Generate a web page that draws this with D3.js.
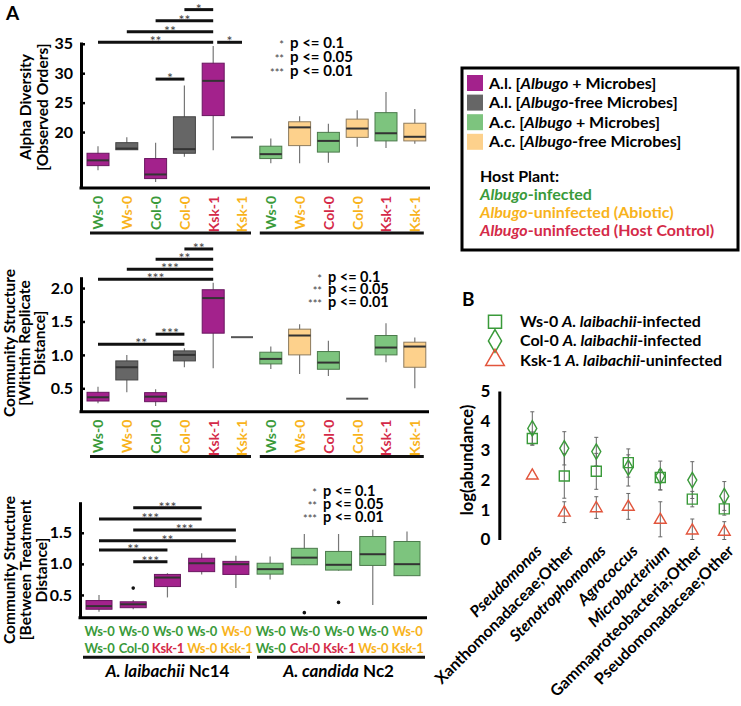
<!DOCTYPE html>
<html>
<head>
<meta charset="utf-8">
<script src="https://cdn.jsdelivr.net/npm/d3@7"></script>
<style>
  body { margin: 0; background: #fff; }
  text { font-family: Lato, "Open Sans", sans-serif; font-weight: bold; }
</style>
</head>
<body>
<svg id="chart" width="741" height="706"></svg>
<script>
// ---------- data ----------
const hostLabels = ["Ws-0","Ws-0","Col-0","Col-0","Ksk-1","Ksk-1","Ws-0","Ws-0","Col-0","Col-0","Ksk-1","Ksk-1"];
const hostType   = ["inf","abio","inf","abio","ctrl","abio","inf","abio","ctrl","abio","ctrl","abio"];
const treatment  = ["AlM","AlF","AlM","AlF","AlM","AlF","AcM","AcF","AcM","AcF","AcM","AcF"];

// [whisker low, q1, median, q3, whisker high]
const alphaStats = [
  [13.5, 14.3, 15.2, 16.4, 17.6],
  [17.0, 17.0, 17.2, 18.2, 19.1],
  [11.5, 12.1, 12.8, 15.5, 18.2],
  [15.8, 16.4, 17.1, 22.6, 27.9],
  [16.9, 22.8, 28.7, 31.7, 34.6],
  [19.1, 19.1, 19.1, 19.1, 19.1],
  [14.7, 15.5, 16.25, 17.6, 18.9],
  [14.7, 17.7, 20.8, 21.75, 22.7],
  [14.8, 16.6, 18.5, 19.95, 21.4],
  [17.5, 19.1, 20.6, 22.2, 23.7],
  [17.3, 18.5, 19.8, 23.3, 26.8],
  [18.0, 18.5, 19.2, 21.5, 23.9]
];
const withinStats = [
  [0.275, 0.31, 0.366, 0.44, 0.525],
  [0.44, 0.625, 0.815, 0.91, 1.0],
  [0.235, 0.30, 0.375, 0.435, 0.485],
  [0.815, 0.91, 1.0, 1.06, 1.10],
  [0.80, 1.325, 1.85, 1.975, 2.08],
  [1.265, 1.265, 1.265, 1.265, 1.265],
  [0.79, 0.865, 0.94, 1.04, 1.125],
  [0.715, 1.0, 1.29, 1.385, 1.46],
  [0.685, 0.785, 0.885, 1.05, 1.21],
  [0.345, 0.345, 0.345, 0.345, 0.345],
  [0.89, 1.0, 1.11, 1.29, 1.475],
  [0.50, 0.815, 1.125, 1.19, 1.26]
];

const pairTop        = ["Ws-0","Ws-0","Ws-0","Ws-0","Ws-0","Ws-0","Ws-0","Ws-0","Ws-0","Ws-0"];
const pairTopHost    = ["inf","inf","inf","inf","abio","inf","inf","inf","inf","abio"];
const pairBottom     = ["Ws-0","Col-0","Ksk-1","Ws-0","Ksk-1","Ws-0","Col-0","Ksk-1","Ws-0","Ksk-1"];
const pairBottomHost = ["inf","inf","ctrl","abio","abio","inf","ctrl","ctrl","abio","abio"];
const pairTreatment  = ["AlM","AlM","AlM","AlM","AlM","AcM","AcM","AcM","AcM","AcM"];
const betweenStats = [
  [0.23, 0.27, 0.32, 0.41, 0.50],
  [0.27, 0.295, 0.35, 0.39, 0.42],
  [0.46, 0.635, 0.78, 0.83, 0.85],
  [0.83, 0.875, 1.01, 1.09, 1.17],
  [0.61, 0.83, 0.995, 1.04, 1.13],
  [0.75, 0.835, 0.915, 1.01, 1.12],
  [0.985, 0.985, 1.10, 1.25, 1.48],
  [0.89, 0.90, 0.985, 1.20, 1.48],
  [0.34, 0.975, 1.155, 1.44, 1.55],
  [0.81, 0.81, 0.995, 1.36, 1.52]
];
const betweenOutliers = [[], [0.61], [], [], [], [], [0.215], [0.38], [], []];

// significance: [from box, to box, bar level (axis units), stars]
const alphaSig   = [[3,4,40.8,"*"],[2,4,38.9,"**"],[1,4,37.05,"**"],[0,4,35.25,"**"],[4,5,35.25,"*"],[2,3,29.0,"*"]];
const withinSig  = [[3,4,2.585,"**"],[2,4,2.43,"**"],[1,4,2.28,"***"],[0,4,2.13,"***"],[2,3,1.31,"***"],[0,3,1.16,"**"]];
const betweenSig = [[1,3,1.904,"***"],[0,3,1.722,"***"],[1,4,1.545,"***"],[0,4,1.373,"**"],[0,2,1.223,"**"],[1,2,1.035,"***"]];

const pStars = ["*", "**", "***"];
const pText  = ["p <= 0.1", "p <= 0.05", "p <= 0.01"];

// panel B
const taxa       = ["Pseudomonas","Xanthomonadaceae;Other","Stenotrophomonas","Agrococcus","Microbacterium","Gammaproteobacteria;Other","Pseudomonadaceae;Other"];
const taxaItalic = [true, false, true, true, true, false, false];
const ws0Mean  = [3.40, 2.14, 2.30, 2.59, 2.09, 1.36, 1.03];
const ws0Lo    = [3.18, 1.39, 1.69, 2.10, 1.67, 1.10, 0.82];
const ws0Hi    = [3.62, 2.89, 2.90, 2.85, 2.35, 1.62, 1.25];
const col0Mean = [3.74, 3.07, 2.96, 2.42, 2.14, 2.00, 1.46];
const col0Lo   = [3.18, 2.51, 2.48, 1.80, 1.67, 1.38, 0.98];
const col0Hi   = [4.30, 3.63, 3.44, 3.05, 2.64, 2.62, 1.95];
const ksk1Mean = [2.15, 0.90, 1.05, 1.10, 0.66, 0.30, 0.26];
const ksk1Lo   = [2.15, 0.57, 0.71, 0.68, 0.09, 0.00, 0.00];
const ksk1Hi   = [2.15, 1.27, 1.44, 1.55, 1.27, 0.69, 0.60];

// ---------- colours ----------
const fillCol   = {AlM: "#a3228c", AlF: "#666666", AcM: "#7dc47e", AcF: "#fdd18c"};
const strokeCol = {AlM: "#6a1660", AlF: "#444444", AcM: "#4b7a4b", AcF: "#8d7b5e"};
const hostCol   = {inf: "#3a9a3a", abio: "#f8b31c", ctrl: "#d42a48"};
const green = "#3a9a3a", tri = "#e2553c";

const svg = d3.select("#chart");

// ---------- helpers ----------
function yAxis(g, y, ticks, xPos) {
  const ax = g.append("g")
    .attr("transform", `translate(${xPos},0)`)
    .call(d3.axisLeft(y).tickValues(ticks).tickSize(-4).tickSizeOuter(0).tickPadding(8)
      .tickFormat(d => ticks.some(t => t % 1) ? d3.format(".1f")(d) : d));
  ax.select(".domain").attr("stroke-width", 3);
  ax.selectAll(".tick line").attr("stroke-width", 2.5);
  ax.selectAll(".tick text").style("font-size", "16px").attr("fill", "#000");
}

function boxes(g, stats, x, y, treat, w) {
  const b = g.selectAll(null).data(stats).enter().append("g")
    .attr("transform", (d, i) => `translate(${x(i)},0)`);
  b.append("line").attr("y1", d => y(d[0])).attr("y2", d => y(d[4]))
    .attr("stroke", "#777").attr("stroke-width", 1.2);
  b.append("rect").attr("x", -w / 2).attr("width", w)
    .attr("y", d => y(d[3])).attr("height", d => y(d[1]) - y(d[3]))
    .attr("fill", (d, i) => fillCol[treat[i]]).attr("stroke", (d, i) => strokeCol[treat[i]]);
  b.append("line").attr("x1", -w / 2).attr("x2", w / 2)
    .attr("y1", d => y(d[2])).attr("y2", d => y(d[2]))
    .attr("stroke", (d, i) => d[1] === d[3] ? "#555" : "#333").attr("stroke-width", 2);
}

function sigBars(g, sig, x, y) {
  sig.forEach(s => {
    const shared = sig.some(o => o !== s && o[2] === s[2] && o[1] === s[0]);
    const x1 = x(s[0]) + (shared ? 4 : 0), x2 = x(s[1]);
    g.append("line").attr("x1", x1).attr("x2", x2).attr("y1", y(s[2])).attr("y2", y(s[2]))
      .attr("stroke", "#111").attr("stroke-width", 3);
    g.append("text").attr("x", (x1 + x2) / 2).attr("y", y(s[2]) + 4)
      .attr("text-anchor", "middle").style("font-size", "14px").style("font-weight", "normal")
      .attr("fill", "#444").text(s[3]);
  });
}

// p-value key as one multi-line text block
function pLegend(g, xs, ys, dy, fs) {
  const t = g.append("text");
  pStars.forEach((s, i) => {
    t.append("tspan").attr("x", xs - 6).attr("y", ys + i * dy + 6).attr("text-anchor", "end")
      .style("font-size", "11px").style("font-weight", "normal").attr("fill", "#444").text(s);
    t.append("tspan").attr("x", xs).attr("y", ys + i * dy + 5).attr("text-anchor", "start")
      .style("font-size", fs + "px").text(pText[i]);
  });
}

// rotated multi-line axis title
function yTitle(g, lines, xs, yc) {
  const t = g.append("text").attr("transform", `translate(${xs[0]},${yc}) rotate(-90)`)
    .attr("text-anchor", "middle").style("font-size", "15.5px");
  lines.forEach((l, i) => {
    t.append("tspan").attr("x", 0).attr("y", xs[i] - xs[0]).attr("dy", "0.35em").text(l);
  });
}

function rich(sel, parts) {
  parts.forEach(p => sel.append("tspan").style("font-style", p[1] ? "italic" : "normal").text(p[0]));
  return sel;
}

// ---------- panel A ----------
const A = svg.append("g");
A.append("text").attr("x", 6).attr("y", 20).style("font-size", "19px").text("A");

const idx12 = d3.range(12);
const axisX = 81;

function rotatedTicks(g, x, labels, hosts, yBase, gap) {
  const ax = g.append("g").attr("transform", `translate(0,${yBase})`)
    .call(d3.axisBottom(x).tickSize(0).tickFormat(i => labels[i]));
  ax.select(".domain").remove();
  ax.selectAll(".tick text")
    .attr("transform", "rotate(-90)").attr("text-anchor", "end")
    .attr("x", -gap).attr("y", 0).attr("dy", "0.35em")
    .style("font-size", "14px").attr("fill", (d, i) => hostCol[hosts[i]]);
}

function groupLines(g, x, yL, n) {
  g.append("line").attr("x1", x(0) - 8).attr("x2", x(n / 2 - 1) + 9).attr("y1", yL).attr("y2", yL)
    .attr("stroke", "#111").attr("stroke-width", 3);
  g.append("line").attr("x1", x(n / 2) - 11).attr("x2", x(n - 1) + 9).attr("y1", yL).attr("y2", yL)
    .attr("stroke", "#111").attr("stroke-width", 3);
}

// top: alpha diversity
{
  const x = d3.scalePoint().domain(idx12).range([98, 414.8]);
  const y = d3.scaleLinear().domain([10.5, 35.3]).range([188, 42]);
  yAxis(A, y, [20, 25, 30, 35], axisX);
  A.append("line").attr("x1", axisX - 1.5).attr("x2", 430).attr("y1", 188).attr("y2", 188)
    .attr("stroke", "#000").attr("stroke-width", 3);
  boxes(A, alphaStats, x, y, treatment, 22);
  sigBars(A, alphaSig, x, y);
  pLegend(A, 290, 42.5, 14, 15);
  rotatedTicks(A, x, hostLabels, hostType, 188, 8);
  groupLines(A, x, 233, 12);
  yTitle(A, ["Alpha Diversity", "[Observed Orders]"], [26, 43], 107);
}

// middle: within replicate distance
{
  const x = d3.scalePoint().domain(idx12).range([98, 414.8]);
  const y = d3.scaleLinear().domain([0.15, 2.17]).range([411.7, 276.7]);
  yAxis(A, y, [0.5, 1.0, 1.5, 2.0], axisX);
  A.append("line").attr("x1", axisX - 1.5).attr("x2", 429).attr("y1", 411.7).attr("y2", 411.7)
    .attr("stroke", "#000").attr("stroke-width", 3);
  boxes(A, withinStats, x, y, treatment, 22);
  sigBars(A, withinSig, x, y);
  pLegend(A, 328, 276.5, 12.6, 14.5);
  rotatedTicks(A, x, hostLabels, hostType, 411.7, 8);
  groupLines(A, x, 456.5, 12);
  yTitle(A, ["Community Structure", "[Withtin Replicate", "Distance]"], [10, 25, 40], 343);
}

// bottom: between treatment distance
{
  const idx10 = d3.range(10);
  const x = d3.scalePoint().domain(idx10).range([99, 407]);
  const y = d3.scaleLinear().domain([0.134, 2.0]).range([617.7, 501.7]);
  yAxis(A, y, [0.5, 1.0, 1.5], 80);
  A.append("line").attr("x1", 78.5).attr("x2", 427).attr("y1", 617.7).attr("y2", 617.7)
    .attr("stroke", "#000").attr("stroke-width", 3);
  boxes(A, betweenStats, x, y, pairTreatment, 26);
  betweenOutliers.forEach((o, i) => o.forEach(v =>
    A.append("circle").attr("cx", x(i)).attr("cy", y(v)).attr("r", 1.8).attr("fill", "#111")));
  sigBars(A, betweenSig, x, y);
  pLegend(A, 323, 491, 13, 14.5);

  const ax = A.append("g").attr("transform", "translate(0,617.7)")
    .call(d3.axisBottom(x).tickSize(0).tickFormat(() => ""));
  ax.select(".domain").remove();
  ax.selectAll(".tick").each(function (i) {
    const t = d3.select(this);
    t.append("text").attr("y", 18).attr("text-anchor", "middle").style("font-size", "13px")
      .style("letter-spacing", "-0.3px").attr("fill", hostCol[pairTopHost[i]]).text(pairTop[i]);
    t.append("text").attr("y", 35).attr("text-anchor", "middle").style("font-size", "13px")
      .style("letter-spacing", "-0.3px").attr("fill", hostCol[pairBottomHost[i]]).text(pairBottom[i]);
  });
  A.append("line").attr("x1", 83).attr("x2", 250).attr("y1", 657.3).attr("y2", 657.3)
    .attr("stroke", "#111").attr("stroke-width", 3);
  A.append("line").attr("x1", 257).attr("x2", 425).attr("y1", 657.3).attr("y2", 657.3)
    .attr("stroke", "#111").attr("stroke-width", 3);
  rich(A.append("text").attr("x", (x(0) + x(4)) / 2).attr("y", 677).attr("text-anchor", "middle")
    .style("font-size", "17px"), [["A. laibachii", true], [" Nc14", false]]);
  rich(A.append("text").attr("x", (x(5) + x(9)) / 2).attr("y", 677).attr("text-anchor", "middle")
    .style("font-size", "17px"), [["A. candida", true], [" Nc2", false]]);
  yTitle(A, ["Community Structure", "[Between Treatment", "Distance]"], [10, 26, 42], 570);
}

// ---------- legend box ----------
{
  const L = svg.append("g");
  L.append("rect").attr("x", 462).attr("y", 68).attr("width", 276).attr("height", 182)
    .attr("fill", "none").attr("stroke", "#000").attr("stroke-width", 3);
  const rows = [
    ["AlM", [["A.l. [", 0], ["Albugo", 1], [" + Microbes]", 0]]],
    ["AlF", [["A.l. [", 0], ["Albugo", 1], ["-free Microbes]", 0]]],
    ["AcM", [["A.c. [", 0], ["Albugo", 1], [" + Microbes]", 0]]],
    ["AcF", [["A.c. [", 0], ["Albugo", 1], ["-free Microbes]", 0]]]
  ];
  rows.forEach((r, i) => {
    const yc = 83 + i * 19.6;
    L.append("rect").attr("x", 467).attr("y", yc - 8).attr("width", 16).attr("height", 16)
      .attr("fill", fillCol[r[0]]);
    rich(L.append("text").attr("x", 489).attr("y", yc + 5.5).style("font-size", "16px"), r[1]);
  });
  L.append("text").attr("x", 480).attr("y", 182).style("font-size", "16px").text("Host Plant:");
  const hosts = [["inf", "-infected"], ["abio", "-uninfected (Abiotic)"], ["ctrl", "-uninfected (Host Control)"]];
  hosts.forEach((h, i) => {
    rich(L.append("text").attr("x", 480).attr("y", 199.5 + i * 18.3).style("font-size", "16px")
      .attr("fill", hostCol[h[0]]), [["Albugo", 1], [h[1], 0]]);
  });
}

// ---------- panel B ----------
{
  const B = svg.append("g");
  B.append("text").attr("x", 462).attr("y", 306).style("font-size", "19px").text("B");

  const x = d3.scalePoint().domain(taxa).range([532.3, 724.3]);
  const y = d3.scaleLinear().domain([0, 5]).range([539.5, 391]);

  const ax = B.append("g").attr("transform", "translate(499.3,0)")
    .call(d3.axisLeft(y).ticks(5).tickSize(0).tickSizeOuter(0).tickPadding(9));
  ax.select(".domain").attr("stroke-width", 3);
  ax.selectAll(".tick text").style("font-size", "17px").attr("fill", "#000");

  B.append("text").attr("transform", "translate(467,460) rotate(-90)").attr("text-anchor", "middle")
    .attr("dy", "0.35em").style("font-size", "16.5px").text("log(abundance)");

  const xa = B.append("g").attr("transform", "translate(0,548)")
    .call(d3.axisBottom(x).tickSize(0));
  xa.select(".domain").remove();
  xa.selectAll(".tick text")
    .attr("transform", "translate(6,0) rotate(-45)").attr("text-anchor", "end")
    .attr("y", 0).attr("dy", "0.35em").style("font-size", "16px").attr("fill", "#000")
    .style("font-style", (d, i) => taxaItalic[i] ? "italic" : "normal");

  const series = [
    {mean: ws0Mean, lo: ws0Lo, hi: ws0Hi, shape: d3.symbolSquare, color: green, size: 100},
    {mean: col0Mean, lo: col0Lo, hi: col0Hi, shape: d3.symbolDiamond, color: green, size: 70},
    {mean: ksk1Mean, lo: ksk1Lo, hi: ksk1Hi, shape: d3.symbolTriangle, color: tri, size: 60}
  ];
  series.forEach(s => {
    taxa.forEach((t, i) => {
      if (s.hi[i] === s.lo[i]) return;
      B.append("line").attr("x1", x(t)).attr("x2", x(t)).attr("y1", y(s.lo[i])).attr("y2", y(s.hi[i]))
        .attr("stroke", "#666").attr("stroke-width", 1);
      [s.lo[i], s.hi[i]].forEach(v => B.append("line").attr("x1", x(t) - 2).attr("x2", x(t) + 2)
        .attr("y1", y(v)).attr("y2", y(v)).attr("stroke", "#666").attr("stroke-width", 1));
    });
  });
  series.forEach(s => {
    B.selectAll(null).data(taxa).enter().append("path")
      .attr("transform", (t, i) => `translate(${x(t)},${y(s.mean[i])})`)
      .attr("d", d3.symbol().type(s.shape).size(s.size))
      .attr("fill", "none").attr("stroke", s.color).attr("stroke-width", 1.4);
  });

  // legend
  const leg = [
    [d3.symbolSquare, green, 170, [["Ws-0 ", 0], ["A. laibachii", 1], ["-infected", 0]]],
    [d3.symbolDiamond, green, 150, [["Col-0 ", 0], ["A. laibachii", 1], ["-infected", 0]]],
    [d3.symbolTriangle, tri, 150, [["Ksk-1 ", 0], ["A. laibachii", 1], ["-uninfected", 0]]]
  ];
  leg.forEach((l, i) => {
    const yc = 321.7 + i * 19.2;
    B.append("path").attr("transform", `translate(495,${yc})`)
      .attr("d", d3.symbol().type(l[0]).size(l[2]))
      .attr("fill", "none").attr("stroke", l[1]).attr("stroke-width", 1.5);
    rich(B.append("text").attr("x", 520).attr("y", yc + 5.5).style("font-size", "16px"), l[3]);
  });
}
</script>
</body>
</html>
